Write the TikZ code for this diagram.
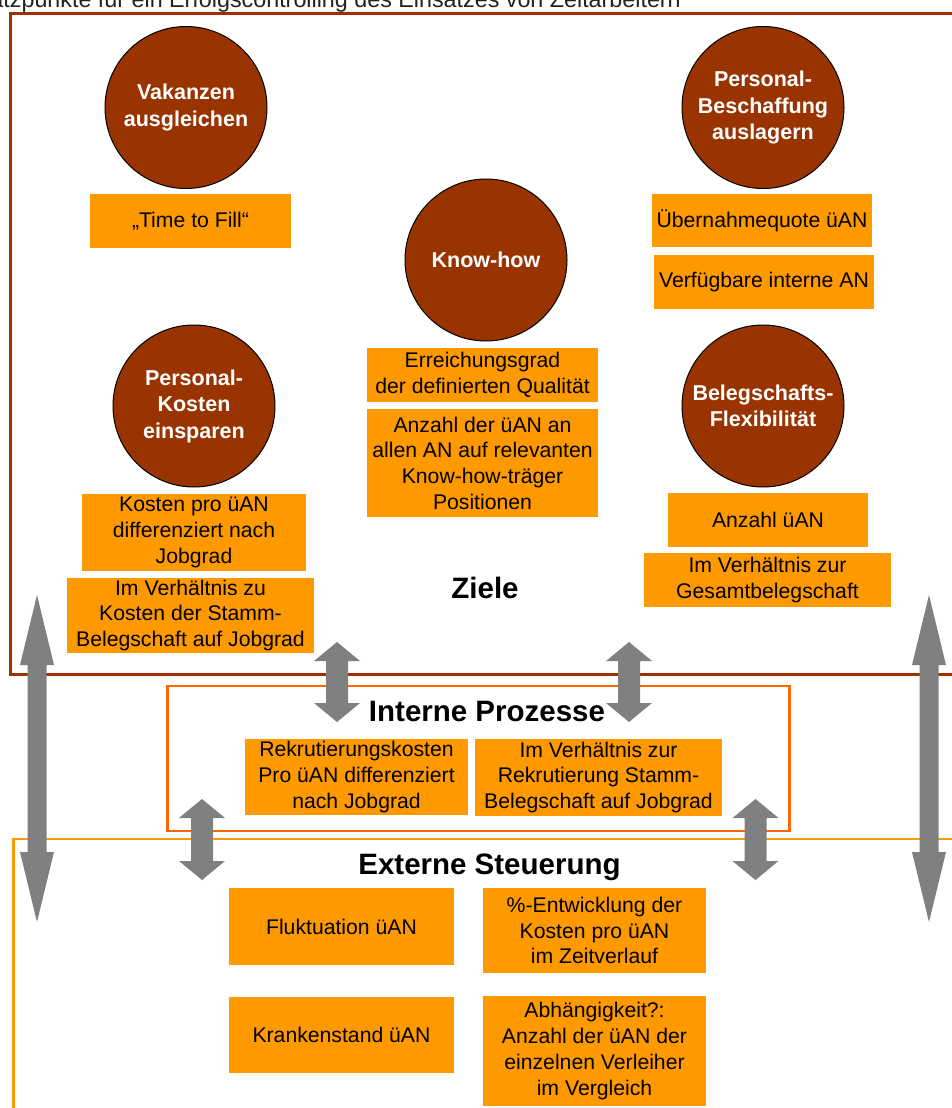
\documentclass[tikz,border=0pt]{standalone}
\usepackage{fontspec}
\setmainfont{Liberation Sans}
\definecolor{boxor}{HTML}{FF9900}
\definecolor{goalbr}{HTML}{993300}
\definecolor{frbrown}{HTML}{993300}
\definecolor{frint}{HTML}{FF6600}
\definecolor{frext}{HTML}{FF9900}
\definecolor{arrgray}{HTML}{808080}
\definecolor{titlegray}{HTML}{222222}
\newcommand\bodyfont{\fontsize{21.2}{25.7}\selectfont}
\newcommand\goalfont{\fontsize{21.5}{26.5}\selectfont\bfseries}
\newcommand\headfont{\fontsize{29.5}{34}\selectfont\bfseries}
\newcommand\titlefont{\fontsize{23.3}{28}\selectfont}
% double block arrow: x, ytop, ybottom, head half width, shaft half width, head length
\newcommand\dblarr[6]{%
  \fill[arrgray] (#1,#2) -- (#1+#4,#2+#6) -- (#1+#5,#2+#6) -- (#1+#5,#3-#6)
    -- (#1+#4,#3-#6) -- (#1,#3) -- (#1-#4,#3-#6) -- (#1-#5,#3-#6)
    -- (#1-#5,#2+#6) -- (#1-#4,#2+#6) -- cycle;}
\begin{document}
\begin{tikzpicture}[x=1pt,y=-1pt,
  box/.style={fill=boxor, inner sep=0pt, align=center, font=\bodyfont},
  goal/.style={circle, fill=goalbr, draw=black, line width=1pt, inner sep=0pt,
    minimum size=162pt, align=center, text=white, font=\goalfont},
  head/.style={font=\headfont, inner sep=0pt, anchor=base}]
\useasboundingbox (0,0) rectangle (952,1108);
\clip (0,0) rectangle (952,1108);
\fill[white] (0,0) rectangle (952,1108);

% title (cut off at the top and left, as in the reference)
\node[anchor=base east, font=\titlefont, text=titlegray, inner sep=0pt] (title) at (681,8)
  {Ansatzpunkte für ein Erfolgscontrolling des Einsatzes von Zeitarbeitern};

% frames
\draw[frbrown, line width=3pt] (970,13.5) -- (10,13.5) -- (10,674.5) -- (970,674.5);
\draw[frint, line width=2.5pt] (167.5,686) rectangle (789.5,831);
\draw[frext, line width=2.5pt] (970,839) -- (13.5,839) -- (13.5,1120);

% goals
\node[goal] (vak) at (186,107.5) {Vakanzen\\ausgleichen};
\node[goal] (pbes) at (763,107.5) {Personal-\\Beschaffung\\auslagern};
\node[goal] (know) at (486,260) {Know-how};
\node[goal] (pkos) at (194,406) {Personal-\\Kosten\\einsparen};
\node[goal] (flex) at (763,406) {Belegschafts-\\Flexibilität};

% boxes (Ziele)
\node[box, minimum width=201pt, minimum height=54pt] (ttf) at (190.5,221) {„Time to Fill“};
\node[box, minimum width=220pt, minimum height=53pt] (uebq) at (762,220.5) {Übernahmequote üAN};
\node[box, minimum width=220pt, minimum height=54pt] (verf) at (764,282) {Verfügbare interne AN};
\node[box, minimum width=231pt, minimum height=54pt] (erre) at (482.5,375) {Erreichungsgrad\\der definierten Qualität};
\node[box, minimum width=231pt, minimum height=108pt] (anzk) at (482.5,463) {Anzahl der üAN an\\allen AN auf relevanten\\Know-how-träger\\Positionen};
\node[box, minimum width=224pt, minimum height=77pt] (kpro) at (194,532.5) {Kosten pro üAN\\differenziert nach\\Jobgrad};
\node[box, minimum width=247pt, minimum height=75pt] (ivzk) at (190.5,615.5) {Im Verhältnis zu\\Kosten der Stamm-\\Belegschaft auf Jobgrad};
\node[box, minimum width=200pt, minimum height=54pt] (anzu) at (768,520) {Anzahl üAN};
\node[box, minimum width=247pt, minimum height=54pt] (ivzg) at (767.5,580) {Im Verhältnis zur\\Gesamtbelegschaft};
\node[head] (ziele) at (485,598) {Ziele};

% Interne Prozesse
\node[head] (intp) at (487,721) {Interne Prozesse};
\node[box, minimum width=223pt, minimum height=76pt] (rekk) at (356.5,777) {Rekrutierungskosten\\Pro üAN differenziert\\nach Jobgrad};
\node[box, minimum width=247pt, minimum height=77pt] (ivzr) at (598.5,777.5) {Im Verhältnis zur\\Rekrutierung Stamm-\\Belegschaft auf Jobgrad};

% Externe Steuerung
\node[head] (exts) at (489.5,874) {Externe Steuerung};
\node[box, minimum width=225pt, minimum height=77pt] (fluk) at (341.5,926.5) {Fluktuation üAN};
\node[box, minimum width=223pt, minimum height=85pt] (entw) at (594.5,930.5) {\%-Entwicklung der\\Kosten pro üAN\\im Zeitverlauf};
\node[box, minimum width=225pt, minimum height=76pt] (kran) at (341.5,1035) {Krankenstand üAN};
\node[box, minimum width=223pt, minimum height=110pt] (abha) at (594.5,1051) {Abhängigkeit?:\\Anzahl der üAN der\\einzelnen Verleiher\\im Vergleich};

% block arrows
\dblarr{37}{595}{922}{17}{9.5}{70}
\dblarr{929}{595}{922}{17}{9.5}{70}
\dblarr{337}{642}{722}{23}{11}{19}
\dblarr{629}{642}{722}{23}{11}{19}
\dblarr{202}{799}{880}{23}{11}{19}
\dblarr{755.5}{799}{880}{23}{11}{19}
\end{tikzpicture}
\end{document}
